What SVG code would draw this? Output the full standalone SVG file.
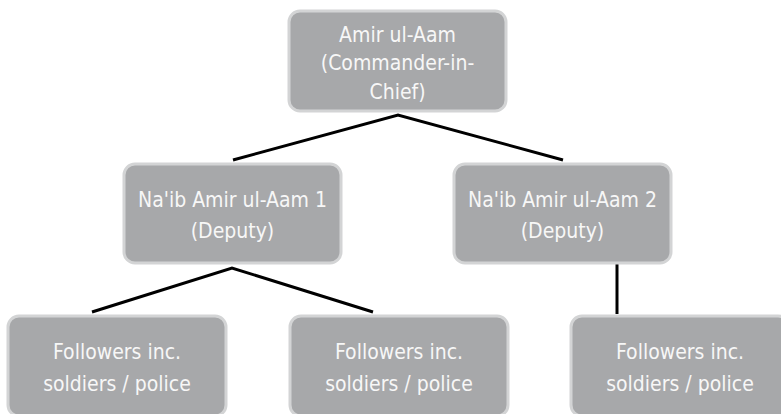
<svg xmlns="http://www.w3.org/2000/svg" width="781" height="414" viewBox="0 0 781 414">
<style>
.box{fill:#a7a8aa;stroke:#d3d4d5;stroke-width:3}
.t{font-family:"Liberation Sans Narrow","DejaVu Sans Condensed","Liberation Sans",sans-serif;font-stretch:condensed;font-size:21px;fill:#f7f7f7;text-anchor:middle}
.c{stroke:#000;stroke-width:3;fill:none}
</style>
<rect width="781" height="414" fill="#fff"/>
<g id="connectors">
<polyline class="c" points="233,160 398,115 563,160"/>
<polyline class="c" points="92,312 232,268 373,312"/>
<line class="c" x1="617" y1="264" x2="617" y2="314"/>
</g>
<g id="n0"><rect class="box" x="289" y="11" width="217" height="100" rx="11"/>
<text class="t" x="397.5" y="42">Amir ul-Aam</text><text class="t" x="397.5" y="70">(Commander-in-</text><text class="t" x="397.5" y="99">Chief)</text></g>
<g id="n1"><rect class="box" x="124" y="164" width="217" height="99" rx="11"/>
<text class="t" x="232.5" y="207">Na'ib Amir ul-Aam 1</text><text class="t" x="232.5" y="238">(Deputy)</text></g>
<g id="n2"><rect class="box" x="454" y="164" width="217" height="99" rx="11"/>
<text class="t" x="562.5" y="207">Na'ib Amir ul-Aam 2</text><text class="t" x="562.5" y="238">(Deputy)</text></g>
<g id="n3"><rect class="box" x="8" y="316" width="218" height="100" rx="11"/>
<text class="t" x="117" y="359">Followers inc.</text><text class="t" x="117" y="391">soldiers / police</text></g>
<g id="n4"><rect class="box" x="290" y="316" width="218" height="100" rx="11"/>
<text class="t" x="399" y="359">Followers inc.</text><text class="t" x="399" y="391">soldiers / police</text></g>
<g id="n5"><rect class="box" x="571" y="316" width="218" height="100" rx="11"/>
<text class="t" x="680" y="359">Followers inc.</text><text class="t" x="680" y="391">soldiers / police</text></g>
</svg>
